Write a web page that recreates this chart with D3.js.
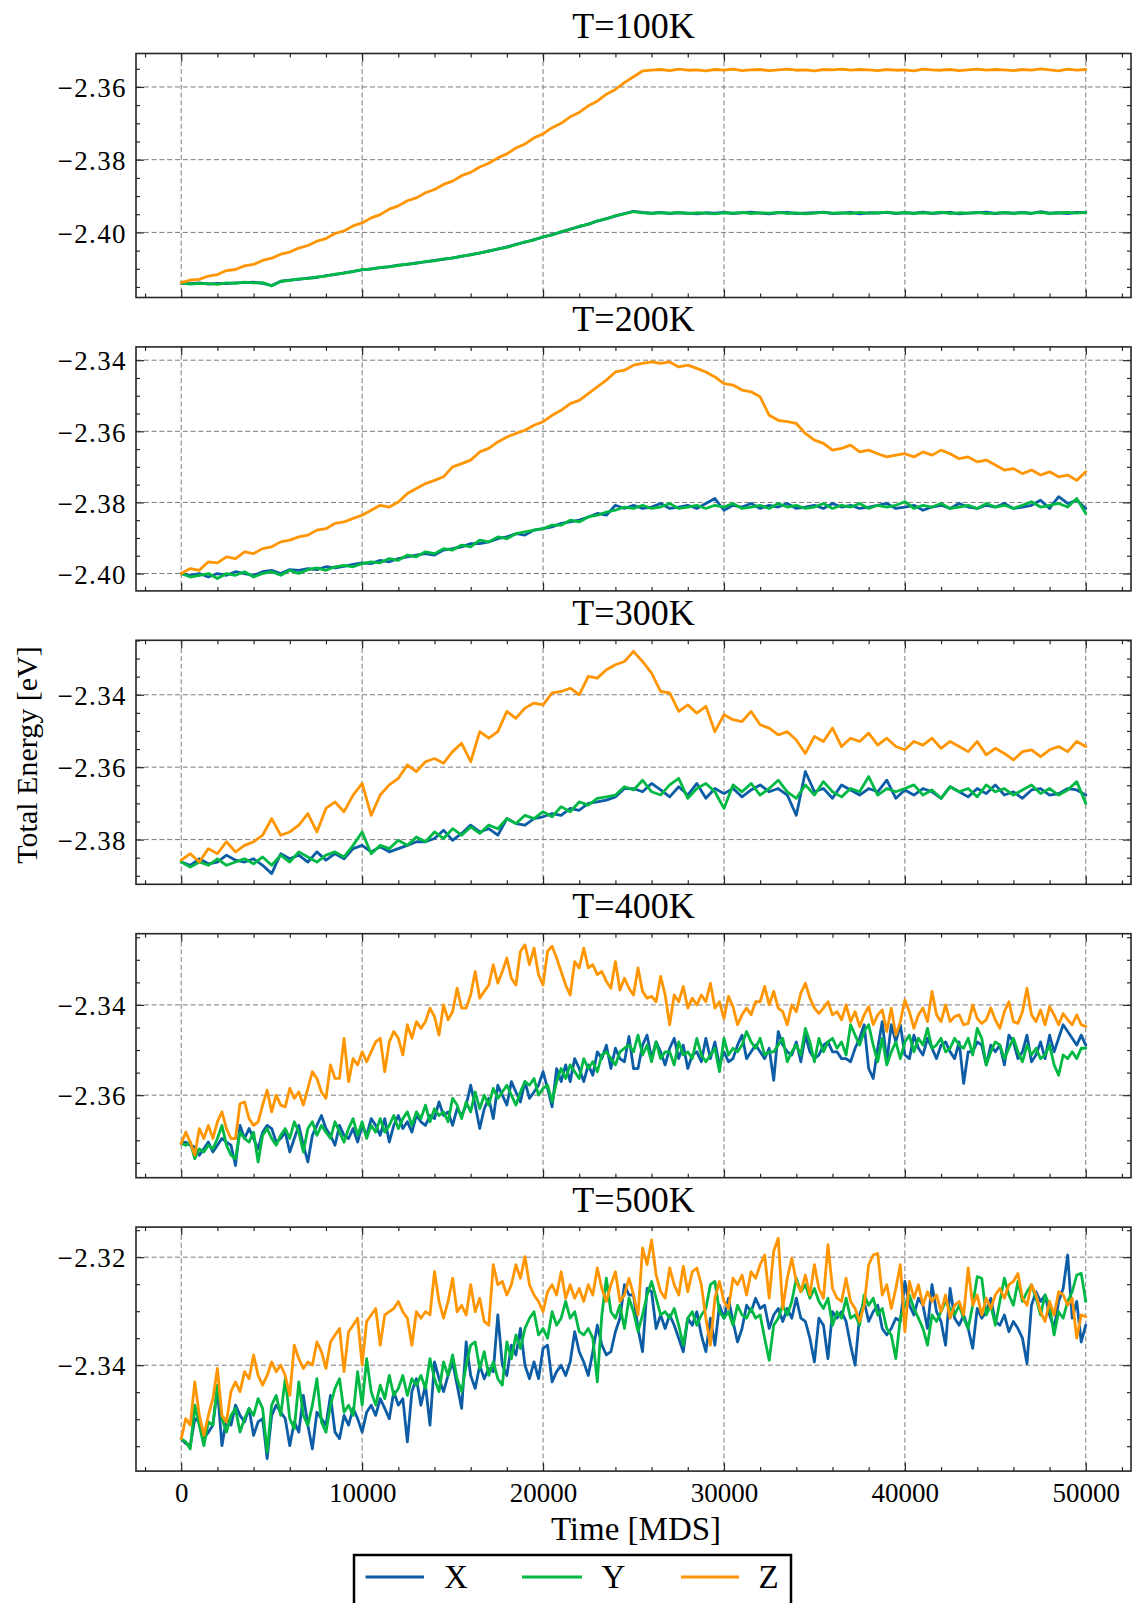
<!DOCTYPE html>
<html>
<head>
<meta charset="utf-8">
<script src="https://cdn.jsdelivr.net/npm/d3@7"></script>
<style>
body{margin:0;background:#fff}
svg{display:block}
</style>
</head>
<body>
<svg id="chart" width="1136" height="1603"></svg>
<script>
// ---------------- DATA ----------------
const stepsCoarse = d3.range(0, 50001, 500);   // MD steps, panels 100K-300K
const stepsFine = d3.range(0, 50001, 250);     // MD steps, panels 400K-500K

const titles = ["T=100K", "T=200K", "T=300K", "T=400K", "T=500K"];
const seriesNames = ["X", "Y", "Z"];
const xTicks = [0, 10000, 20000, 30000, 40000, 50000];
const xDomain = [-2500, 52500];

const yTicks100 = [-2.40, -2.38, -2.36];
const yTicks200 = [-2.40, -2.38, -2.36, -2.34];
const yTicks300 = [-2.38, -2.36, -2.34];
const yTicks400 = [-2.36, -2.34];
const yTicks500 = [-2.34, -2.32];

const yDomain100 = [-2.4179, -2.3508];
const yDomain200 = [-2.40489, -2.33626];
const yDomain300 = [-2.39235, -2.32496];
const yDomain400 = [-2.37829, -2.32422];
const yDomain500 = [-2.35961, -2.31443];

const e100X = [-2.4140,-2.4141,-2.4139,-2.4142,-2.4140,-2.4141,-2.4139,-2.4138,-2.4137,-2.4140,
-2.4146,-2.4134,-2.4131,-2.4129,-2.4126,-2.4124,-2.4119,-2.4116,-2.4111,-2.4107,
-2.4103,-2.4100,-2.4097,-2.4094,-2.4090,-2.4088,-2.4084,-2.4081,-2.4077,-2.4074,
-2.4070,-2.4066,-2.4061,-2.4057,-2.4051,-2.4046,-2.4040,-2.4033,-2.4027,-2.4020,
-2.4013,-2.4006,-2.3999,-2.3991,-2.3984,-2.3977,-2.3969,-2.3962,-2.3955,-2.3948,
-2.3942,-2.3945,-2.3947,-2.3945,-2.3948,-2.3946,-2.3947,-2.3949,-2.3946,-2.3947,
-2.3945,-2.3948,-2.3946,-2.3944,-2.3947,-2.3949,-2.3946,-2.3945,-2.3948,-2.3947,
-2.3946,-2.3944,-2.3948,-2.3947,-2.3945,-2.3949,-2.3946,-2.3947,-2.3945,-2.3948,
-2.3946,-2.3947,-2.3944,-2.3948,-2.3946,-2.3945,-2.3949,-2.3947,-2.3946,-2.3944,
-2.3948,-2.3946,-2.3947,-2.3945,-2.3948,-2.3943,-2.3947,-2.3946,-2.3948,-2.3945,
-2.3946];
const e100Y = [-2.4139,-2.4142,-2.4140,-2.4141,-2.4143,-2.4139,-2.4140,-2.4137,-2.4139,-2.4138,
-2.4147,-2.4135,-2.4132,-2.4128,-2.4127,-2.4122,-2.4120,-2.4115,-2.4112,-2.4108,
-2.4102,-2.4101,-2.4096,-2.4095,-2.4091,-2.4087,-2.4085,-2.4080,-2.4078,-2.4073,
-2.4071,-2.4065,-2.4062,-2.4056,-2.4052,-2.4045,-2.4041,-2.4034,-2.4026,-2.4021,
-2.4012,-2.4007,-2.3998,-2.3992,-2.3983,-2.3978,-2.3968,-2.3963,-2.3954,-2.3949,
-2.3943,-2.3946,-2.3948,-2.3946,-2.3947,-2.3945,-2.3948,-2.3946,-2.3947,-2.3949,
-2.3946,-2.3947,-2.3945,-2.3948,-2.3946,-2.3947,-2.3945,-2.3948,-2.3946,-2.3949,
-2.3947,-2.3945,-2.3947,-2.3946,-2.3948,-2.3945,-2.3947,-2.3946,-2.3944,-2.3947,
-2.3945,-2.3948,-2.3946,-2.3947,-2.3944,-2.3948,-2.3946,-2.3947,-2.3945,-2.3948,
-2.3947,-2.3945,-2.3948,-2.3946,-2.3947,-2.3945,-2.3948,-2.3946,-2.3945,-2.3947,
-2.3945];
const e100Z = [-2.4138,-2.4131,-2.4129,-2.4120,-2.4116,-2.4105,-2.4102,-2.4092,-2.4088,-2.4077,
-2.4071,-2.4060,-2.4054,-2.4043,-2.4036,-2.4024,-2.4017,-2.4003,-2.3996,-2.3982,
-2.3974,-2.3960,-2.3951,-2.3936,-2.3927,-2.3913,-2.3905,-2.3891,-2.3882,-2.3868,
-2.3859,-2.3844,-2.3835,-2.3820,-2.3810,-2.3795,-2.3784,-2.3768,-2.3757,-2.3740,
-2.3729,-2.3712,-2.3700,-2.3682,-2.3670,-2.3652,-2.3639,-2.3620,-2.3607,-2.3588,
-2.3572,-2.3556,-2.3554,-2.3552,-2.3555,-2.3551,-2.3554,-2.3553,-2.3556,-2.3552,
-2.3554,-2.3551,-2.3555,-2.3553,-2.3552,-2.3555,-2.3553,-2.3551,-2.3554,-2.3553,
-2.3556,-2.3552,-2.3553,-2.3551,-2.3554,-2.3552,-2.3553,-2.3555,-2.3552,-2.3554,
-2.3553,-2.3556,-2.3551,-2.3553,-2.3554,-2.3552,-2.3555,-2.3553,-2.3551,-2.3554,
-2.3552,-2.3553,-2.3555,-2.3552,-2.3554,-2.3550,-2.3553,-2.3556,-2.3551,-2.3554,
-2.3552];

const e200X = [-2.4000,-2.4005,-2.4000,-2.4010,-2.4000,-2.4005,-2.3995,-2.4000,-2.4005,-2.3995,
-2.3991,-2.4000,-2.3989,-2.3991,-2.3986,-2.3989,-2.3981,-2.3984,-2.3980,-2.3974,
-2.3970,-2.3972,-2.3963,-2.3967,-2.3958,-2.3953,-2.3948,-2.3944,-2.3948,-2.3934,
-2.3930,-2.3925,-2.3916,-2.3916,-2.3911,-2.3902,-2.3897,-2.3888,-2.3892,-2.3878,
-2.3874,-2.3869,-2.3859,-2.3855,-2.3850,-2.3841,-2.3831,-2.3836,-2.3808,-2.3817,
-2.3808,-2.3817,-2.3813,-2.3803,-2.3817,-2.3813,-2.3808,-2.3817,-2.3803,-2.3789,
-2.3822,-2.3808,-2.3813,-2.3803,-2.3817,-2.3808,-2.3813,-2.3803,-2.3817,-2.3813,
-2.3808,-2.3817,-2.3803,-2.3813,-2.3808,-2.3817,-2.3813,-2.3808,-2.3803,-2.3817,
-2.3813,-2.3808,-2.3822,-2.3813,-2.3808,-2.3817,-2.3803,-2.3813,-2.3817,-2.3808,
-2.3813,-2.3803,-2.3817,-2.3813,-2.3808,-2.3794,-2.3817,-2.3784,-2.3803,-2.3794,
-2.3817];
const e200Y = [-2.4000,-2.4010,-2.4005,-2.4000,-2.4014,-2.4000,-2.4005,-2.3995,-2.4010,-2.4000,
-2.3995,-2.4005,-2.3991,-2.4000,-2.3989,-2.3984,-2.3991,-2.3981,-2.3977,-2.3981,
-2.3972,-2.3967,-2.3970,-2.3958,-2.3963,-2.3948,-2.3953,-2.3939,-2.3944,-2.3930,
-2.3934,-2.3920,-2.3925,-2.3906,-2.3911,-2.3897,-2.3902,-2.3888,-2.3883,-2.3878,
-2.3874,-2.3864,-2.3864,-2.3850,-2.3855,-2.3841,-2.3836,-2.3827,-2.3822,-2.3813,
-2.3817,-2.3808,-2.3817,-2.3813,-2.3803,-2.3817,-2.3813,-2.3808,-2.3817,-2.3808,
-2.3813,-2.3803,-2.3817,-2.3813,-2.3808,-2.3817,-2.3803,-2.3813,-2.3808,-2.3817,
-2.3813,-2.3803,-2.3817,-2.3808,-2.3813,-2.3803,-2.3817,-2.3808,-2.3813,-2.3808,
-2.3798,-2.3817,-2.3808,-2.3813,-2.3803,-2.3817,-2.3813,-2.3808,-2.3817,-2.3803,
-2.3813,-2.3808,-2.3817,-2.3808,-2.3798,-2.3813,-2.3808,-2.3803,-2.3813,-2.3789,
-2.3831];
const e200Z = [-2.4000,-2.3986,-2.3991,-2.3967,-2.3970,-2.3953,-2.3958,-2.3939,-2.3944,-2.3930,
-2.3925,-2.3911,-2.3906,-2.3897,-2.3892,-2.3878,-2.3874,-2.3859,-2.3855,-2.3845,
-2.3836,-2.3822,-2.3808,-2.3813,-2.3799,-2.3775,-2.3761,-2.3747,-2.3738,-2.3728,
-2.3700,-2.3691,-2.3681,-2.3658,-2.3648,-2.3630,-2.3616,-2.3606,-2.3597,-2.3583,
-2.3573,-2.3555,-2.3541,-2.3522,-2.3513,-2.3494,-2.3475,-2.3456,-2.3433,-2.3428,
-2.3414,-2.3409,-2.3405,-2.3409,-2.3405,-2.3419,-2.3414,-2.3423,-2.3433,-2.3447,
-2.3466,-2.3470,-2.3484,-2.3489,-2.3503,-2.3555,-2.3569,-2.3573,-2.3578,-2.3606,
-2.3625,-2.3634,-2.3653,-2.3648,-2.3639,-2.3658,-2.3653,-2.3663,-2.3672,-2.3667,
-2.3663,-2.3672,-2.3658,-2.3667,-2.3653,-2.3663,-2.3677,-2.3672,-2.3686,-2.3681,
-2.3695,-2.3709,-2.3705,-2.3719,-2.3709,-2.3723,-2.3714,-2.3728,-2.3723,-2.3738,
-2.3714];

const e300X = [-2.3862,-2.3871,-2.3853,-2.3867,-2.3862,-2.3843,-2.3857,-2.3862,-2.3853,-2.3871,
-2.3894,-2.3839,-2.3853,-2.3843,-2.3862,-2.3834,-2.3857,-2.3839,-2.3853,-2.3825,
-2.3816,-2.3834,-2.3820,-2.3834,-2.3825,-2.3816,-2.3806,-2.3806,-2.3797,-2.3774,
-2.3802,-2.3783,-2.3760,-2.3779,-2.3770,-2.3788,-2.3742,-2.3756,-2.3760,-2.3742,
-2.3737,-2.3728,-2.3733,-2.3714,-2.3719,-2.3700,-2.3696,-2.3691,-2.3682,-2.3659,
-2.3659,-2.3668,-2.3645,-2.3663,-2.3682,-2.3654,-2.3677,-2.3645,-2.3686,-2.3659,
-2.3673,-2.3659,-2.3682,-2.3663,-2.3649,-2.3668,-2.3659,-2.3677,-2.3733,-2.3612,
-2.3668,-2.3659,-2.3686,-2.3649,-2.3663,-2.3677,-2.3659,-2.3668,-2.3636,-2.3686,
-2.3663,-2.3677,-2.3659,-2.3668,-2.3686,-2.3654,-2.3668,-2.3682,-2.3659,-2.3673,
-2.3649,-2.3677,-2.3668,-2.3686,-2.3663,-2.3659,-2.3677,-2.3673,-2.3659,-2.3663,
-2.3677];
const e300Y = [-2.3862,-2.3876,-2.3862,-2.3871,-2.3853,-2.3871,-2.3862,-2.3853,-2.3867,-2.3848,
-2.3871,-2.3843,-2.3862,-2.3834,-2.3848,-2.3862,-2.3843,-2.3834,-2.3848,-2.3816,
-2.3779,-2.3839,-2.3816,-2.3825,-2.3802,-2.3816,-2.3793,-2.3806,-2.3779,-2.3797,
-2.3770,-2.3788,-2.3765,-2.3783,-2.3760,-2.3770,-2.3742,-2.3756,-2.3733,-2.3742,
-2.3723,-2.3737,-2.3709,-2.3723,-2.3696,-2.3705,-2.3686,-2.3682,-2.3677,-2.3654,
-2.3663,-2.3636,-2.3668,-2.3677,-2.3649,-2.3631,-2.3686,-2.3659,-2.3645,-2.3668,
-2.3714,-2.3649,-2.3668,-2.3645,-2.3677,-2.3659,-2.3636,-2.3668,-2.3686,-2.3649,
-2.3677,-2.3640,-2.3668,-2.3682,-2.3659,-2.3668,-2.3626,-2.3677,-2.3659,-2.3668,
-2.3659,-2.3649,-2.3677,-2.3663,-2.3686,-2.3654,-2.3668,-2.3659,-2.3682,-2.3649,
-2.3668,-2.3659,-2.3677,-2.3663,-2.3649,-2.3673,-2.3659,-2.3677,-2.3663,-2.3640,
-2.3700];
const e300Z = [-2.3857,-2.3839,-2.3862,-2.3825,-2.3839,-2.3806,-2.3834,-2.3816,-2.3806,-2.3788,
-2.3742,-2.3788,-2.3779,-2.3760,-2.3728,-2.3779,-2.3714,-2.3696,-2.3723,-2.3677,
-2.3645,-2.3733,-2.3677,-2.3649,-2.3631,-2.3594,-2.3612,-2.3585,-2.3576,-2.3589,
-2.3557,-2.3534,-2.3585,-2.3502,-2.3520,-2.3502,-2.3446,-2.3465,-2.3437,-2.3423,
-2.3428,-2.3395,-2.3391,-2.3382,-2.3400,-2.3349,-2.3354,-2.3331,-2.3317,-2.3308,
-2.3280,-2.3308,-2.3340,-2.3391,-2.3395,-2.3446,-2.3428,-2.3451,-2.3432,-2.3502,
-2.3455,-2.3469,-2.3474,-2.3446,-2.3483,-2.3492,-2.3511,-2.3502,-2.3525,-2.3562,
-2.3515,-2.3529,-2.3492,-2.3543,-2.3520,-2.3529,-2.3506,-2.3539,-2.3520,-2.3543,
-2.3552,-2.3529,-2.3539,-2.3520,-2.3548,-2.3529,-2.3543,-2.3557,-2.3529,-2.3566,
-2.3548,-2.3562,-2.3580,-2.3557,-2.3552,-2.3571,-2.3552,-2.3543,-2.3557,-2.3529,
-2.3543];

const e400X = [-2.3707,-2.3704,-2.3711,-2.3715,-2.3733,-2.3719,-2.3704,-2.3726,-2.3711,-2.3696,
-2.3704,-2.3711,-2.3756,-2.3667,-2.3696,-2.3674,-2.3696,-2.3719,-2.3682,-2.3667,
-2.3674,-2.3704,-2.3696,-2.3682,-2.3726,-2.3696,-2.3667,-2.3711,-2.3748,-2.3689,
-2.3667,-2.3645,-2.3674,-2.3689,-2.3711,-2.3667,-2.3689,-2.3696,-2.3674,-2.3704,
-2.3667,-2.3689,-2.3652,-2.3667,-2.3689,-2.3652,-2.3704,-2.3667,-2.3645,-2.3674,
-2.3659,-2.3682,-2.3645,-2.3659,-2.3667,-2.3645,-2.3652,-2.3615,-2.3645,-2.3637,
-2.3667,-2.3630,-2.3645,-2.3622,-2.3578,-2.3622,-2.3674,-2.3630,-2.3607,-2.3652,
-2.3578,-2.3600,-2.3622,-2.3570,-2.3593,-2.3615,-2.3570,-2.3607,-2.3593,-2.3578,
-2.3548,-2.3585,-2.3626,-2.3541,-2.3570,-2.3533,-2.3570,-2.3519,-2.3541,-2.3570,
-2.3533,-2.3556,-2.3504,-2.3519,-2.3489,-2.3541,-2.3496,-2.3519,-2.3526,-2.3470,
-2.3541,
-2.3541,-2.3489,-2.3467,-2.3519,-2.3482,-2.3504,-2.3533,-2.3496,-2.3474,-2.3519,
-2.3489,-2.3541,-2.3511,-2.3504,-2.3526,-2.3474,-2.3519,-2.3482,-2.3533,-2.3504,
-2.3526,-2.3519,-2.3489,-2.3467,-2.3519,-2.3504,-2.3489,-2.3504,-2.3519,-2.3496,
-2.3567,-2.3459,-2.3489,-2.3504,-2.3511,-2.3482,-2.3526,-2.3467,-2.3504,-2.3519,
-2.3511,-2.3489,-2.3482,-2.3504,-2.3504,-2.3519,-2.3519,-2.3526,-2.3496,-2.3474,
-2.3444,-2.3541,-2.3563,-2.3496,-2.3437,-2.3526,-2.3444,-2.3482,-2.3444,-2.3511,
-2.3519,-2.3467,-2.3496,-2.3511,-2.3474,-2.3496,-2.3519,-2.3489,-2.3482,-2.3504,
-2.3519,-2.3482,-2.3574,-2.3504,-2.3504,-2.3482,-2.3489,-2.3533,-2.3489,-2.3504,
-2.3489,-2.3533,-2.3467,-2.3482,-2.3519,-2.3504,-2.3467,-2.3526,-2.3511,-2.3482,
-2.3519,-2.3467,-2.3504,-2.3474,-2.3444,-2.3459,-2.3474,-2.3489,-2.3467,-2.3489];
const e400Y = [-2.3707,-2.3711,-2.3704,-2.3741,-2.3719,-2.3726,-2.3711,-2.3719,-2.3696,-2.3667,
-2.3711,-2.3733,-2.3741,-2.3682,-2.3696,-2.3704,-2.3682,-2.3748,-2.3689,-2.3674,
-2.3696,-2.3711,-2.3689,-2.3674,-2.3696,-2.3659,-2.3682,-2.3726,-2.3674,-2.3659,
-2.3689,-2.3667,-2.3682,-2.3696,-2.3659,-2.3682,-2.3704,-2.3674,-2.3652,-2.3689,
-2.3659,-2.3696,-2.3667,-2.3682,-2.3652,-2.3682,-2.3667,-2.3645,-2.3674,-2.3652,
-2.3637,-2.3667,-2.3637,-2.3652,-2.3622,-2.3659,-2.3630,-2.3645,-2.3637,-2.3659,
-2.3607,-2.3622,-2.3652,-2.3615,-2.3637,-2.3593,-2.3630,-2.3600,-2.3622,-2.3585,
-2.3607,-2.3593,-2.3578,-2.3600,-2.3622,-2.3593,-2.3570,-2.3578,-2.3563,-2.3600,
-2.3585,-2.3578,-2.3615,-2.3570,-2.3541,-2.3563,-2.3533,-2.3548,-2.3563,-2.3519,
-2.3541,-2.3526,-2.3548,-2.3511,-2.3504,-2.3519,-2.3533,-2.3504,-2.3496,-2.3489,
-2.3504,
-2.3467,-2.3511,-2.3489,-2.3526,-2.3482,-2.3519,-2.3504,-2.3504,-2.3533,-2.3482,
-2.3511,-2.3504,-2.3519,-2.3474,-2.3511,-2.3526,-2.3511,-2.3496,-2.3548,-2.3474,
-2.3511,-2.3496,-2.3504,-2.3489,-2.3459,-2.3482,-2.3496,-2.3474,-2.3511,-2.3504,
-2.3504,-2.3489,-2.3474,-2.3526,-2.3504,-2.3489,-2.3511,-2.3452,-2.3482,-2.3526,
-2.3474,-2.3504,-2.3482,-2.3474,-2.3496,-2.3482,-2.3511,-2.3444,-2.3467,-2.3489,
-2.3459,-2.3444,-2.3489,-2.3526,-2.3474,-2.3533,-2.3504,-2.3482,-2.3519,-2.3482,
-2.3467,-2.3504,-2.3474,-2.3489,-2.3452,-2.3496,-2.3489,-2.3474,-2.3504,-2.3496,
-2.3474,-2.3489,-2.3496,-2.3474,-2.3511,-2.3452,-2.3474,-2.3533,-2.3504,-2.3482,
-2.3489,-2.3519,-2.3496,-2.3474,-2.3504,-2.3526,-2.3489,-2.3511,-2.3496,-2.3519,
-2.3511,-2.3489,-2.3533,-2.3556,-2.3511,-2.3519,-2.3504,-2.3519,-2.3496,-2.3496];
const e400Z = [-2.3707,-2.3682,-2.3704,-2.3733,-2.3674,-2.3696,-2.3667,-2.3696,-2.3659,-2.3637,
-2.3674,-2.3696,-2.3696,-2.3619,-2.3615,-2.3652,-2.3667,-2.3659,-2.3622,-2.3589,
-2.3637,-2.3600,-2.3622,-2.3626,-2.3585,-2.3607,-2.3593,-2.3622,-2.3585,-2.3548,
-2.3563,-2.3593,-2.3607,-2.3533,-2.3563,-2.3563,-2.3474,-2.3570,-2.3519,-2.3533,
-2.3504,-2.3526,-2.3504,-2.3482,-2.3474,-2.3548,-2.3482,-2.3459,-2.3474,-2.3511,
-2.3444,-2.3474,-2.3437,-2.3452,-2.3437,-2.3407,-2.3426,-2.3467,-2.3400,-2.3433,
-2.3415,-2.3363,-2.3407,-2.3407,-2.3378,-2.3326,-2.3385,-2.3370,-2.3356,-2.3311,
-2.3352,-2.3326,-2.3296,-2.3341,-2.3356,-2.3281,-2.3267,-2.3311,-2.3274,-2.3333,
-2.3356,-2.3281,-2.3270,-2.3296,-2.3326,-2.3356,-2.3378,-2.3304,-2.3318,-2.3274,
-2.3318,-2.3311,-2.3333,-2.3326,-2.3348,-2.3363,-2.3304,-2.3367,-2.3341,-2.3363,
-2.3378,
-2.3318,-2.3370,-2.3385,-2.3381,-2.3393,-2.3337,-2.3378,-2.3444,-2.3378,-2.3393,
-2.3359,-2.3407,-2.3385,-2.3400,-2.3378,-2.3393,-2.3352,-2.3407,-2.3393,-2.3430,
-2.3381,-2.3404,-2.3444,-2.3422,-2.3407,-2.3422,-2.3393,-2.3393,-2.3359,-2.3400,
-2.3370,-2.3407,-2.3415,-2.3444,-2.3400,-2.3415,-2.3374,-2.3352,-2.3385,-2.3407,
-2.3419,-2.3407,-2.3393,-2.3422,-2.3415,-2.3433,-2.3400,-2.3437,-2.3415,-2.3448,
-2.3422,-2.3404,-2.3444,-2.3422,-2.3411,-2.3459,-2.3407,-2.3467,-2.3437,-2.3389,
-2.3415,-2.3452,-2.3422,-2.3407,-2.3437,-2.3370,-2.3422,-2.3437,-2.3400,-2.3437,
-2.3426,-2.3422,-2.3444,-2.3441,-2.3400,-2.3430,-2.3441,-2.3433,-2.3407,-2.3433,
-2.3452,-2.3415,-2.3393,-2.3437,-2.3441,-2.3415,-2.3363,-2.3422,-2.3437,-2.3411,
-2.3444,-2.3404,-2.3422,-2.3444,-2.3419,-2.3433,-2.3444,-2.3422,-2.3444,-2.3448];

const e500X = [-2.3536,-2.3545,-2.3549,-2.3499,-2.3505,-2.3536,-2.3524,-2.3511,-2.3443,-2.3549,
-2.3499,-2.3511,-2.3474,-2.3493,-2.3505,-2.3480,-2.3530,-2.3505,-2.3499,-2.3573,
-2.3493,-2.3474,-2.3487,-2.3499,-2.3549,-2.3505,-2.3524,-2.3456,-2.3511,-2.3555,
-2.3487,-2.3499,-2.3511,-2.3456,-2.3524,-2.3536,-2.3493,-2.3511,-2.3480,-2.3499,
-2.3524,-2.3487,-2.3474,-2.3493,-2.3462,-2.3480,-2.3499,-2.3449,-2.3474,-2.3462,
-2.3542,-2.3449,-2.3425,-2.3474,-2.3437,-2.3511,-2.3394,-2.3425,-2.3449,-2.3419,
-2.3394,-2.3437,-2.3480,-2.3357,-2.3419,-2.3443,-2.3400,-2.3425,-2.3406,-2.3412,
-2.3307,-2.3400,-2.3419,-2.3363,-2.3381,-2.3332,-2.3400,-2.3425,-2.3394,-2.3425,
-2.3369,-2.3363,-2.3431,-2.3412,-2.3400,-2.3419,-2.3394,-2.3338,-2.3375,-2.3394,
-2.3419,-2.3375,-2.3326,-2.3363,-2.3381,-2.3375,-2.3338,-2.3313,-2.3251,-2.3270,
-2.3270,
-2.3332,-2.3375,-2.3258,-2.3264,-2.3332,-2.3307,-2.3332,-2.3307,-2.3326,-2.3350,
-2.3375,-2.3313,-2.3326,-2.3301,-2.3344,-2.3375,-2.3313,-2.3363,-2.3289,-2.3313,
-2.3276,-2.3319,-2.3357,-2.3332,-2.3289,-2.3301,-2.3276,-2.3295,-2.3289,-2.3332,
-2.3307,-2.3295,-2.3319,-2.3295,-2.3313,-2.3276,-2.3313,-2.3319,-2.3350,-2.3394,
-2.3313,-2.3326,-2.3388,-2.3301,-2.3313,-2.3301,-2.3319,-2.3363,-2.3400,-2.3307,
-2.3282,-2.3319,-2.3301,-2.3289,-2.3332,-2.3344,-2.3332,-2.3313,-2.3319,-2.3245,
-2.3289,-2.3307,-2.3276,-2.3289,-2.3332,-2.3251,-2.3301,-2.3319,-2.3363,-2.3258,
-2.3313,-2.3326,-2.3307,-2.3332,-2.3369,-2.3295,-2.3313,-2.3301,-2.3276,-2.3319,
-2.3326,-2.3307,-2.3338,-2.3319,-2.3332,-2.3350,-2.3397,-2.3289,-2.3264,-2.3282,
-2.3270,-2.3307,-2.3332,-2.3282,-2.3258,-2.3196,-2.3313,-2.3282,-2.3357,-2.3326];
const e500Y = [-2.3536,-2.3542,-2.3555,-2.3474,-2.3511,-2.3549,-2.3505,-2.3511,-2.3437,-2.3499,
-2.3524,-2.3493,-2.3480,-2.3524,-2.3499,-2.3480,-2.3493,-2.3462,-2.3480,-2.3561,
-2.3474,-2.3456,-2.3493,-2.3425,-2.3499,-2.3518,-2.3431,-2.3493,-2.3511,-2.3474,
-2.3425,-2.3505,-2.3524,-2.3474,-2.3443,-2.3425,-2.3487,-2.3474,-2.3493,-2.3412,
-2.3474,-2.3388,-2.3449,-2.3474,-2.3437,-2.3462,-2.3419,-2.3456,-2.3443,-2.3419,
-2.3456,-2.3425,-2.3437,-2.3419,-2.3443,-2.3388,-2.3425,-2.3449,-2.3394,-2.3419,
-2.3381,-2.3425,-2.3449,-2.3400,-2.3363,-2.3357,-2.3406,-2.3375,-2.3419,-2.3394,
-2.3425,-2.3437,-2.3357,-2.3388,-2.3344,-2.3369,-2.3332,-2.3313,-2.3301,-2.3344,
-2.3332,-2.3350,-2.3301,-2.3326,-2.3313,-2.3282,-2.3313,-2.3301,-2.3338,-2.3344,
-2.3332,-2.3350,-2.3431,-2.3307,-2.3239,-2.3301,-2.3313,-2.3289,-2.3332,-2.3276,
-2.3301,
-2.3338,-2.3307,-2.3270,-2.3245,-2.3276,-2.3307,-2.3301,-2.3313,-2.3295,-2.3326,
-2.3363,-2.3313,-2.3301,-2.3326,-2.3307,-2.3295,-2.3251,-2.3245,-2.3301,-2.3313,
-2.3301,-2.3326,-2.3289,-2.3307,-2.3313,-2.3295,-2.3313,-2.3307,-2.3350,-2.3391,
-2.3326,-2.3313,-2.3289,-2.3307,-2.3282,-2.3239,-2.3264,-2.3251,-2.3276,-2.3258,
-2.3282,-2.3295,-2.3276,-2.3326,-2.3301,-2.3313,-2.3276,-2.3313,-2.3307,-2.3326,
-2.3270,-2.3289,-2.3276,-2.3307,-2.3295,-2.3332,-2.3344,-2.3388,-2.3313,-2.3289,
-2.3270,-2.3295,-2.3313,-2.3332,-2.3363,-2.3307,-2.3319,-2.3301,-2.3282,-2.3295,
-2.3307,-2.3289,-2.3313,-2.3332,-2.3289,-2.3236,-2.3239,-2.3307,-2.3289,-2.3326,
-2.3282,-2.3239,-2.3270,-2.3289,-2.3245,-2.3282,-2.3264,-2.3251,-2.3276,-2.3307,
-2.3270,-2.3289,-2.3344,-2.3301,-2.3313,-2.3282,-2.3264,-2.3233,-2.3230,-2.3282];
const e500Z = [-2.3536,-2.3499,-2.3511,-2.3431,-2.3493,-2.3530,-2.3493,-2.3462,-2.3406,-2.3493,
-2.3505,-2.3449,-2.3431,-2.3449,-2.3412,-2.3425,-2.3381,-2.3419,-2.3437,-2.3419,
-2.3394,-2.3412,-2.3400,-2.3419,-2.3456,-2.3363,-2.3388,-2.3406,-2.3394,-2.3400,
-2.3357,-2.3375,-2.3406,-2.3357,-2.3344,-2.3332,-2.3412,-2.3338,-2.3326,-2.3313,
-2.3400,-2.3319,-2.3307,-2.3295,-2.3363,-2.3307,-2.3301,-2.3295,-2.3282,-2.3301,
-2.3313,-2.3363,-2.3301,-2.3313,-2.3301,-2.3307,-2.3227,-2.3282,-2.3313,-2.3282,
-2.3239,-2.3301,-2.3289,-2.3307,-2.3251,-2.3301,-2.3276,-2.3319,-2.3326,-2.3214,
-2.3251,-2.3245,-2.3270,-2.3251,-2.3214,-2.3239,-2.3199,-2.3251,-2.3270,-2.3282,
-2.3301,-2.3264,-2.3251,-2.3270,-2.3227,-2.3276,-2.3251,-2.3276,-2.3258,-2.3282,
-2.3251,-2.3270,-2.3220,-2.3258,-2.3282,-2.3251,-2.3227,-2.3282,-2.3270,-2.3239,
-2.3270,
-2.3307,-2.3183,-2.3214,-2.3168,-2.3233,-2.3264,-2.3276,-2.3220,-2.3251,-2.3270,
-2.3217,-2.3264,-2.3227,-2.3220,-2.3251,-2.3313,-2.3363,-2.3276,-2.3245,-2.3282,
-2.3295,-2.3239,-2.3251,-2.3233,-2.3270,-2.3227,-2.3239,-2.3214,-2.3196,-2.3276,
-2.3189,-2.3165,-2.3295,-2.3239,-2.3202,-2.3245,-2.3264,-2.3233,-2.3270,-2.3214,
-2.3258,-2.3276,-2.3177,-2.3258,-2.3276,-2.3282,-2.3239,-2.3282,-2.3295,-2.3319,
-2.3289,-2.3214,-2.3196,-2.3193,-2.3270,-2.3251,-2.3295,-2.3258,-2.3214,-2.3338,
-2.3245,-2.3276,-2.3251,-2.3289,-2.3264,-2.3282,-2.3270,-2.3301,-2.3270,-2.3313,
-2.3289,-2.3282,-2.3307,-2.3220,-2.3289,-2.3270,-2.3307,-2.3276,-2.3295,-2.3270,
-2.3258,-2.3276,-2.3251,-2.3245,-2.3230,-2.3276,-2.3289,-2.3251,-2.3270,-2.3301,
-2.3319,-2.3282,-2.3307,-2.3264,-2.3270,-2.3289,-2.3276,-2.3350,-2.3307,-2.3310];

const panels = [
  {title: titles[0], steps: stepsCoarse, series: [e100X, e100Y, e100Z], ticks: yTicks100, domain: yDomain100},
  {title: titles[1], steps: stepsCoarse, series: [e200X, e200Y, e200Z], ticks: yTicks200, domain: yDomain200},
  {title: titles[2], steps: stepsCoarse, series: [e300X, e300Y, e300Z], ticks: yTicks300, domain: yDomain300},
  {title: titles[3], steps: stepsFine,   series: [e400X, e400Y, e400Z], ticks: yTicks400, domain: yDomain400},
  {title: titles[4], steps: stepsFine,   series: [e500X, e500Y, e500Z], ticks: yTicks500, domain: yDomain500}
];

// ---------------- LAYOUT / STYLE ----------------
const W = 1136, H = 1603;
const plotLeft = 136, plotRight = 1131;
const panelTop0 = 53.5, panelStep = 293.4, panelH = 244;
const colors = ["#0C5DA5", "#00B945", "#FF9500"];
const FONT = "'Liberation Serif','Times New Roman',serif";
const frameColor = "#262626";

const svg = d3.select("#chart");
svg.append("rect").attr("width", W).attr("height", H).attr("fill", "#fff");
const defs = svg.append("defs");

const x = d3.scaleLinear().domain(xDomain).range([plotLeft, plotRight]);
const fmtY = v => d3.format(".2f")(v).replace("-", "\u2212");
const xMinor = d3.range(-2000, 52001, 2000).filter(v => v % 10000 !== 0);

function styleAxis(g, size) {
  g.select(".domain").remove();
  g.attr("font-family", FONT).attr("font-size", size);
  g.selectAll(".tick line").attr("stroke", frameColor).attr("stroke-width", 1.2);
  g.selectAll(".tick text").attr("fill", "#000");
}

panels.forEach((p, i) => {
  const top = panelTop0 + i * panelStep;
  const bottom = top + panelH;
  const y = d3.scaleLinear().domain(p.domain).range([bottom, top]);
  const g = svg.append("g");

  const clipId = "clip" + i;
  defs.append("clipPath").attr("id", clipId)
    .append("rect").attr("x", plotLeft).attr("y", top)
    .attr("width", plotRight - plotLeft).attr("height", panelH);

  // grid
  g.append("g").selectAll("line").data(xTicks).join("line")
    .attr("x1", d => x(d)).attr("x2", d => x(d))
    .attr("y1", top).attr("y2", bottom)
    .attr("stroke", "#7a7a7a").attr("stroke-width", 1).attr("stroke-dasharray", "5,2.8");
  g.append("g").selectAll("line").data(p.ticks).join("line")
    .attr("x1", plotLeft).attr("x2", plotRight)
    .attr("y1", d => y(d)).attr("y2", d => y(d))
    .attr("stroke", "#7a7a7a").attr("stroke-width", 1).attr("stroke-dasharray", "5,2.8");

  // series
  const line = d3.line().x(d => x(d[0])).y(d => y(d[1]));
  const lg = g.append("g").attr("clip-path", `url(#${clipId})`);
  p.series.forEach((vals, k) => {
    const pts = vals.map((v, j) => [p.steps[j], v]).filter(d => d[0] !== undefined);
    lg.append("path").attr("d", line(pts))
      .attr("fill", "none").attr("stroke", colors[k])
      .attr("stroke-width", 2.8).attr("stroke-linejoin", "round").attr("stroke-linecap", "round");
  });

  // frame
  g.append("rect").attr("x", plotLeft).attr("y", top)
    .attr("width", plotRight - plotLeft).attr("height", panelH)
    .attr("fill", "none").attr("stroke", frameColor).attr("stroke-width", 1.6);

  // minor y ticks
  const [lo, hi] = p.domain;
  const yMinor = d3.range(Math.ceil(lo / 0.005 - 1e-9), Math.floor(hi / 0.005 + 1e-9) + 1)
    .map(k => +(k * 0.005).toFixed(3))
    .filter(v => !p.ticks.some(t => Math.abs(t - v) < 1e-6));

  const isLast = i === panels.length - 1;

  // bottom axis
  const gb = g.append("g").attr("transform", `translate(0,${bottom})`)
    .call(d3.axisBottom(x).tickValues(xTicks).tickSizeInner(-8).tickSizeOuter(0).tickPadding(12)
      .tickFormat(isLast ? d3.format("d") : () => ""));
  styleAxis(gb, 27);
  const gbm = g.append("g").attr("transform", `translate(0,${bottom})`)
    .call(d3.axisBottom(x).tickValues(xMinor).tickSizeInner(-4).tickSizeOuter(0).tickFormat(() => ""));
  styleAxis(gbm, 27);
  // top axis
  const gt = g.append("g").attr("transform", `translate(0,${top})`)
    .call(d3.axisTop(x).tickValues(xTicks).tickSizeInner(-8).tickSizeOuter(0).tickFormat(() => ""));
  styleAxis(gt, 27);
  const gtm = g.append("g").attr("transform", `translate(0,${top})`)
    .call(d3.axisTop(x).tickValues(xMinor).tickSizeInner(-4).tickSizeOuter(0).tickFormat(() => ""));
  styleAxis(gtm, 27);
  // left axis
  const gl = g.append("g").attr("transform", `translate(${plotLeft},0)`)
    .call(d3.axisLeft(y).tickValues(p.ticks).tickSizeInner(-8).tickSizeOuter(0).tickPadding(9).tickFormat(fmtY));
  styleAxis(gl, 27);
  gl.selectAll(".tick text").attr("dy", "0.36em").attr("letter-spacing", "1.4px");
  const glm = g.append("g").attr("transform", `translate(${plotLeft},0)`)
    .call(d3.axisLeft(y).tickValues(yMinor).tickSizeInner(-4).tickSizeOuter(0).tickFormat(() => ""));
  styleAxis(glm, 27);
  // right axis
  const gr = g.append("g").attr("transform", `translate(${plotRight},0)`)
    .call(d3.axisRight(y).tickValues(p.ticks).tickSizeInner(-8).tickSizeOuter(0).tickFormat(() => ""));
  styleAxis(gr, 27);
  const grm = g.append("g").attr("transform", `translate(${plotRight},0)`)
    .call(d3.axisRight(y).tickValues(yMinor).tickSizeInner(-4).tickSizeOuter(0).tickFormat(() => ""));
  styleAxis(grm, 27);

  // title
  svg.append("text").attr("x", (plotLeft + plotRight) / 2).attr("y", top - 15.5)
    .attr("text-anchor", "middle").attr("font-family", FONT).attr("font-size", 36)
    .attr("fill", "#000").text(p.title);
});

// axis labels
svg.append("text").attr("x", 636).attr("y", 1540)
  .attr("text-anchor", "middle").attr("font-family", FONT).attr("font-size", 33)
  .attr("fill", "#000").text("Time [MDS]");
svg.append("text").attr("transform", "translate(37,755) rotate(-90)")
  .attr("text-anchor", "middle").attr("font-family", FONT).attr("font-size", 30)
  .attr("fill", "#000").text("Total Energy [eV]");

// legend
const legend = svg.append("g");
legend.append("rect").attr("x", 354).attr("y", 1555).attr("width", 437).attr("height", 80)
  .attr("fill", "#fff").attr("stroke", "#000").attr("stroke-width", 2.5);
const legendLineX = [[365.5, 424], [522, 582], [681, 739]];
const legendTextX = [456, 613.5, 768.5];
seriesNames.forEach((name, k) => {
  legend.append("line").attr("x1", legendLineX[k][0]).attr("x2", legendLineX[k][1])
    .attr("y1", 1577).attr("y2", 1577).attr("stroke", colors[k]).attr("stroke-width", 2.8);
  legend.append("text").attr("x", legendTextX[k]).attr("y", 1588)
    .attr("text-anchor", "middle").attr("font-family", FONT).attr("font-size", 33)
    .attr("fill", "#000").text(name);
});
</script>
</body>
</html>
